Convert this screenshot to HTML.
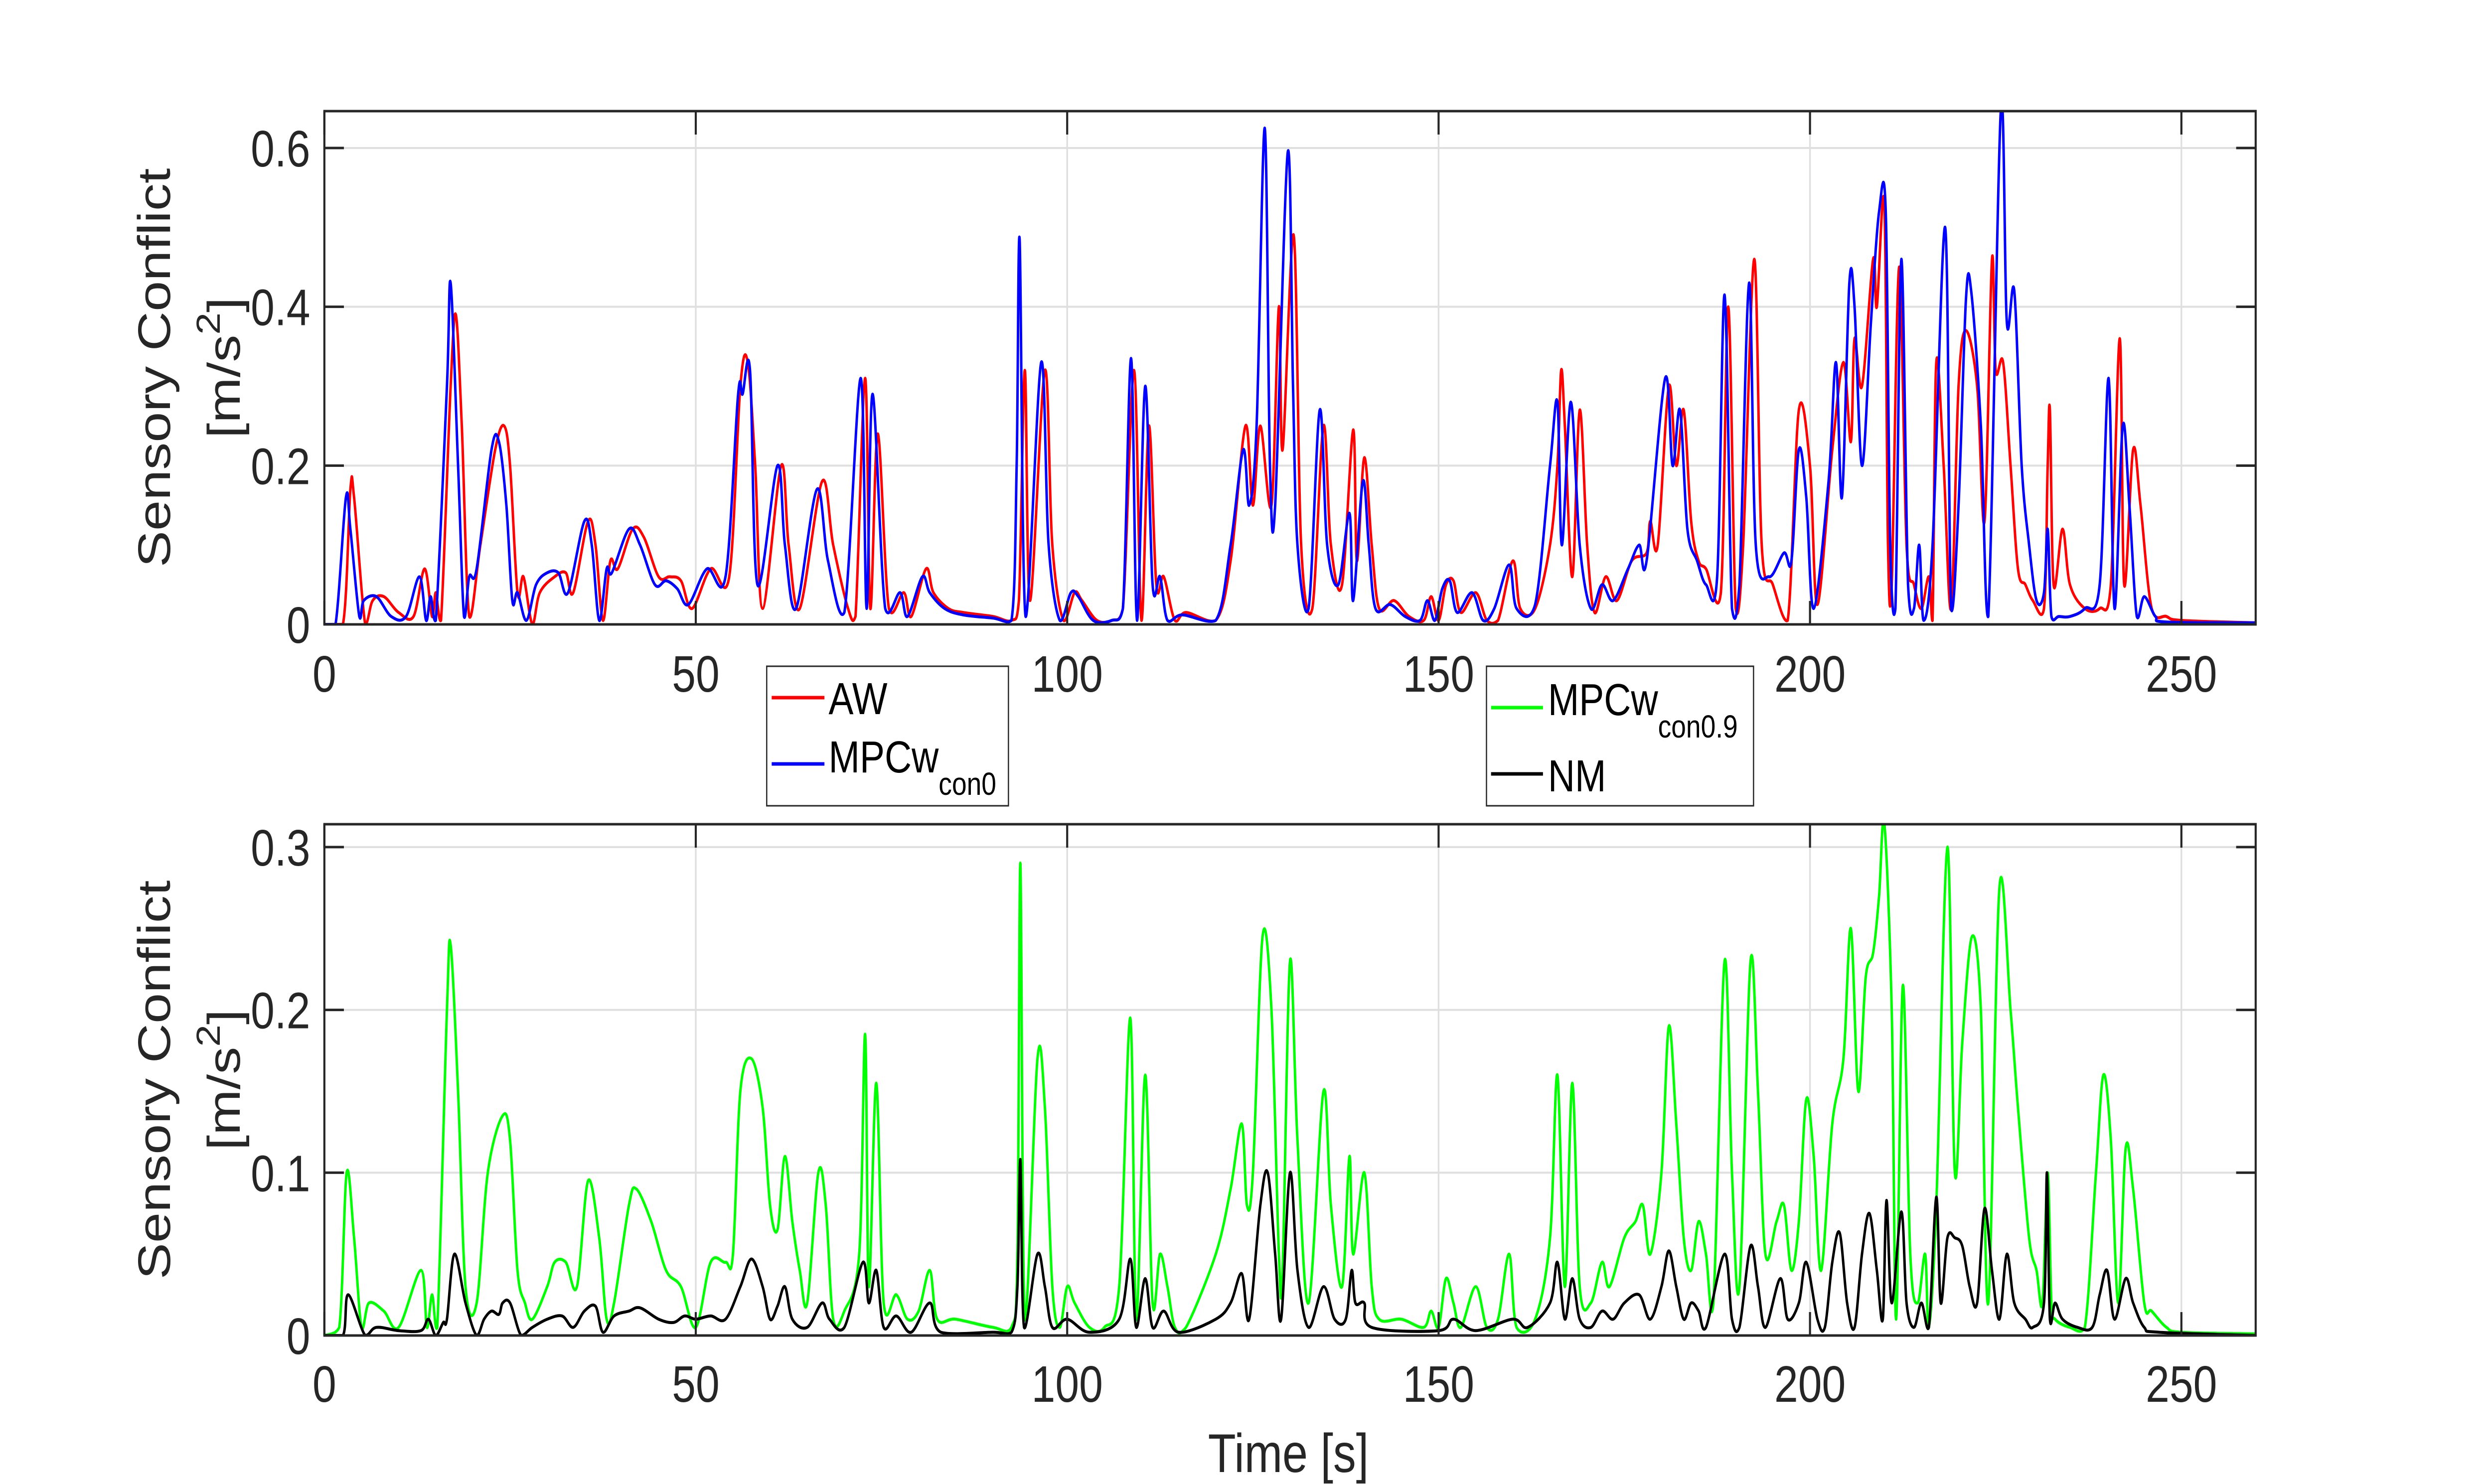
<!DOCTYPE html>
<html><head><meta charset="utf-8"><style>
html,body{margin:0;padding:0;background:#fff;overflow:hidden;width:100%;height:100%}
svg{display:block;position:absolute;left:0;top:0;width:100vw;height:100vh}
text{font-family:"Liberation Sans",Arial,sans-serif;fill:#262626}
</style></head><body>
<svg id="s" viewBox="0 0 6000 2978" preserveAspectRatio="none" xmlns="http://www.w3.org/2000/svg">
<defs>
<clipPath id="c1"><rect x="781" y="223" width="4650" height="1030"/></clipPath>
<clipPath id="c2"><rect x="781" y="1654" width="4650" height="1026"/></clipPath>
</defs>
<g id="grid" stroke="#dfdfdf" stroke-width="4"></g>
<g id="series"></g>
<g id="axes" fill="none" stroke="#262626" stroke-width="5"></g>
<g id="labels"></g>
<text transform="translate(409,738) rotate(-90)" text-anchor="middle" font-size="110">Sensory Conflict</text>
<text transform="translate(577,738) rotate(-90)" text-anchor="middle" font-size="110">[m/s<tspan font-size="80" dy="-48">2</tspan><tspan dy="48">]</tspan></text>
<text transform="translate(409,2167) rotate(-90)" text-anchor="middle" font-size="110">Sensory Conflict</text>
<text transform="translate(577,2167) rotate(-90)" text-anchor="middle" font-size="110">[m/s<tspan font-size="80" dy="-48">2</tspan><tspan dy="48">]</tspan></text>
<text x="3102" y="2954" text-anchor="middle" font-size="110">Time [s]</text>
<rect x="1846" y="1337" width="582" height="280" fill="#fff" stroke="#262626" stroke-width="3"/>
<line x1="1858" y1="1400" x2="1985" y2="1400" stroke="#ff0000" stroke-width="7"/>
<line x1="1858" y1="1533" x2="1985" y2="1533" stroke="#0000ff" stroke-width="7"/>
<text x="1995" y="1433" font-size="90" style="fill:#000">AW</text>
<text x="1995" y="1550" font-size="90" style="fill:#000">MPCw<tspan font-size="64" dy="45">con0</tspan></text>
<rect x="3579" y="1337" width="643" height="280" fill="#fff" stroke="#262626" stroke-width="3"/>
<line x1="3590" y1="1420" x2="3715" y2="1420" stroke="#00ff00" stroke-width="7"/>
<line x1="3590" y1="1553" x2="3715" y2="1553" stroke="#000" stroke-width="7"/>
<text x="3727" y="1435" font-size="90" style="fill:#000">MPCw<tspan font-size="64" dy="45">con0.9</tspan></text>
<text x="3727" y="1588" font-size="90" style="fill:#000">NM</text>
</svg>
<script>
var NS="http://www.w3.org/2000/svg";
function el(p,n,a,t){var e=document.createElementNS(NS,n);for(var k in a)e.setAttribute(k,a[k]);if(t!==undefined)e.textContent=t;document.getElementById(p).appendChild(e);return e;}
var X0=781,X1=5431;function X(t){return X0+t*(X1-X0)/260;}
var A=[{top:223,bot:1253,sc:1593.3,ticks:[0,0.2,0.4,0.6],lab:["0","0.2","0.4","0.6"]},
       {top:1654,bot:2680,sc:3267,ticks:[0,0.1,0.2,0.3],lab:["0","0.1","0.2","0.3"]}];
A.forEach(function(a,i){
  for(var t=50;t<=250;t+=50){el("grid","line",{x1:X(t),x2:X(t),y1:a.top,y2:a.bot});}
  a.ticks.forEach(function(v){if(v>0)el("grid","line",{x1:X0,x2:X1,y1:a.bot-v*a.sc,y2:a.bot-v*a.sc});});
  el("axes","rect",{x:X0,y:a.top,width:X1-X0,height:a.bot-a.top});
  for(var t=0;t<=250;t+=50){el("axes","line",{x1:X(t),x2:X(t),y1:a.bot,y2:a.bot-47});el("axes","line",{x1:X(t),x2:X(t),y1:a.top,y2:a.top+47});
    el("labels","text",{x:X(t),y:(i==0?1388:2813),"text-anchor":"middle","font-size":"103"},String(t));}
  a.ticks.forEach(function(v,j){var y=a.bot-v*a.sc;el("axes","line",{x1:X0,x2:X0+47,y1:y,y2:y});el("axes","line",{x1:X1,x2:X1-47,y1:y,y2:y});
    el("labels","text",{x:747,y:y+37,"text-anchor":"end","font-size":"103"},a.lab[j]);});
});
function P(s){return s.split(";").map(function(p){var q=p.split(",");return[+q[0],+q[1]];});}
var R=P("0,0;2.5,0;3.5,0.17;4,0.16;5.5,0.0;6.5,0.03;8,0.035;10,0.015;12,0.01;13.5,0.07;14.5,0.01;15,0.04;15.7,0.005;17,0.3;17.7,0.39;18.5,0.25;19.5,0.01;21,0.1;23,0.22;24.2,0.25;25,0.2;26,0.04;26.8,0.06;28,0.0;29,0.04;31,0.06;32.5,0.065;33.5,0.04;35.5,0.13;36.5,0.1;37.5,0.005;38.5,0.08;39.5,0.07;41.5,0.12;43,0.11;45,0.06;46.5,0.06;48,0.055;49.5,0.02;52,0.07;54.5,0.06;56,0.3;57,0.33;58,0.2;59,0.02;61.5,0.2;62.5,0.1;64,0.02;67,0.18;68.5,0.1;70.5,0.02;71.5,0.01;72.8,0.31;73.5,0.02;74.5,0.24;76,0.02;78,0.04;79,0.01;81,0.07;82,0.04;84,0.02;86,0.015;90,0.01;92.5,0.005;93.5,0.03;94.3,0.32;95,0.03;97,0.32;98,0.1;99.5,0.005;101,0.04;102,0.03;104,0.005;106,0.005;107.5,0.02;109,0.32;110,0.005;111,0.25;112,0.05;113,0.06;114.5,0.005;116,0.015;120,0.005;122,0.08;124,0.25;125,0.15;126,0.25;127.5,0.15;128.5,0.4;129,0.22;130.5,0.49;131.5,0.1;133,0.02;134.5,0.25;135.5,0.1;137,0.05;138.5,0.245;139,0.08;140,0.21;141,0.1;142,0.02;144,0.03;146,0.01;148,0.005;149,0.035;150,0.005;151,0.05;152,0.055;153,0.015;155,0.04;156.5,0.005;158,0.005;160,0.08;161,0.02;163,0.02;165,0.1;166,0.2;166.5,0.32;167,0.25;168,0.06;169,0.27;170,0.1;171,0.015;172.5,0.06;174,0.03;176,0.08;178,0.09;178.5,0.13;179.5,0.1;181,0.3;182,0.2;183,0.27;184,0.13;185,0.08;186,0.07;188,0.04;189,0.4;190,0.02;191,0.1;192.5,0.46;193.5,0.1;195,0.05;197,0.005;198.5,0.27;200,0.2;201,0.025;203,0.22;204.5,0.33;205.5,0.23;206,0.36;207,0.3;208.5,0.46;209,0.4;210,0.53;210.5,0.1;211,0.05;212,0.45;213,0.1;214,0.05;215,0.02;216,0.06;216.5,0.005;217,0.33;218,0.2;219,0.02;220,0.3;221,0.37;222.5,0.3;223.5,0.13;224.5,0.46;225,0.32;226,0.33;227,0.2;228,0.07;229,0.05;230,0.03;231.5,0.02;232,0.2;232.3,0.27;232.8,0.05;234,0.12;235,0.05;237,0.02;239,0.02;240.5,0.05;241.7,0.36;242.3,0.05;243.5,0.22;244.5,0.15;246,0.02;248,0.01;250,0.005;260,0.002");
var B=P("0,0;1.5,0;2.9,0.16;3.5,0.12;4.7,0.01;5.3,0.03;7,0.035;9,0.01;11,0.01;12.8,0.06;13.7,0.005;14.3,0.035;15,0.005;16.5,0.3;17,0.43;18,0.2;18.8,0.01;19.5,0.06;20.5,0.07;22.5,0.22;23.5,0.23;24.5,0.15;25.3,0.03;26,0.04;27.2,0.005;28.5,0.05;30,0.065;31.5,0.065;32.8,0.04;35,0.13;36,0.1;37,0.005;38,0.07;38.7,0.065;41,0.12;42.5,0.1;44.5,0.05;46,0.055;47.5,0.045;49,0.025;51.5,0.07;54,0.06;55.7,0.29;56.3,0.29;57.3,0.32;58.3,0.05;61,0.2;62,0.1;63.5,0.02;66.3,0.17;67.8,0.08;70,0.015;72.2,0.31;73,0.02;73.8,0.29;75.5,0.02;77.5,0.04;78.5,0.01;80.5,0.06;81.5,0.04;83.5,0.02;86,0.012;90,0.008;92.5,0.005;93.2,0.2;93.6,0.485;94.4,0.01;96.5,0.33;97.5,0.1;99,0.005;100.5,0.04;101.5,0.035;103.5,0.005;106,0.005;107.5,0.02;108.6,0.335;109.4,0.005;110.5,0.3;111.5,0.05;112.5,0.06;113.5,0.005;115.5,0.012;120,0.005;122,0.1;123.7,0.22;124.5,0.15;125.5,0.25;126.6,0.625;127.3,0.2;128,0.15;129.7,0.595;130.4,0.3;131,0.1;132.5,0.02;134,0.27;135,0.1;136.5,0.05;138,0.14;138.5,0.03;139.8,0.18;140.6,0.1;141.5,0.02;143.5,0.025;145.5,0.01;147.5,0.005;148.5,0.03;149.5,0.005;150.5,0.045;151.5,0.055;152.5,0.015;154.5,0.04;156,0.005;157.5,0.02;159.5,0.075;160.5,0.02;163,0.025;165,0.2;166,0.28;166.6,0.1;167.8,0.28;169,0.1;170.5,0.02;172,0.05;173.5,0.03;175.5,0.07;177,0.1;178,0.08;180.5,0.31;181.5,0.2;182.5,0.27;183.5,0.12;184.8,0.08;186,0.05;187.5,0.06;188.5,0.415;189.5,0.02;190.5,0.05;191.8,0.43;192.7,0.1;194.5,0.06;196.5,0.09;197.5,0.08;198.5,0.22;199.5,0.16;200.5,0.02;202.5,0.18;203.5,0.33;204.3,0.16;205.3,0.43;206,0.4;207,0.2;208.2,0.38;209.3,0.52;210.2,0.52;210.8,0.1;211.5,0.02;212.3,0.46;213.2,0.05;214,0.02;214.7,0.1;215.3,0.005;216.5,0.1;218.2,0.5;219,0.02;220,0.15;221,0.41;221.7,0.42;223,0.25;224,0.01;225.7,0.65;226.5,0.38;227.5,0.42;228.5,0.2;229.5,0.1;230.5,0.03;231.5,0.04;232,0.12;232.5,0.01;233.5,0.01;235,0.01;237,0.02;239,0.05;240.2,0.31;241,0.02;242.1,0.25;243,0.15;244,0.01;245,0.035;246.5,0.01;248,0.003;260,0.002");
var G=P("0,0;2,0.005;3,0.1;4,0.06;5,0.005;6,0.02;8,0.015;10,0.005;13,0.04;13.8,0.005;14.5,0.025;15.2,0.005;16.5,0.2;17,0.24;18,0.15;19,0.03;20.5,0.02;22,0.1;24,0.135;25,0.12;26,0.04;27,0.02;28,0.01;30,0.03;31,0.045;32.5,0.045;34,0.03;35.5,0.095;37,0.06;38,0.01;39,0.02;41,0.08;42,0.09;44,0.07;46,0.04;48,0.03;50,0.005;52,0.045;54,0.045;55,0.05;56,0.15;57.5,0.17;59,0.14;60,0.08;61,0.065;62,0.11;63,0.07;64,0.04;65,0.02;66.5,0.1;67.5,0.08;68.5,0.01;70,0.015;72,0.05;72.8,0.185;73.3,0.03;74.3,0.155;75.3,0.02;77,0.025;78.5,0.01;80,0.015;81.5,0.04;82.5,0.01;85,0.01;90,0.005;92.5,0.005;93.3,0.05;93.7,0.29;94.3,0.01;96,0.17;97,0.14;98,0.03;99,0.005;100,0.03;101,0.02;103,0.005;105,0.005;107,0.03;108.5,0.195;109.3,0.01;110.5,0.16;111.5,0.02;112.5,0.05;113.5,0.03;114.5,0.005;116,0.005;120,0.05;122,0.09;123.5,0.13;124.2,0.08;125,0.1;126.3,0.245;127.5,0.2;128.5,0.05;129,0.04;130,0.23;131,0.12;132.5,0.02;134.5,0.15;135.5,0.08;137,0.03;138,0.11;138.5,0.05;140,0.1;141,0.03;142,0.01;145,0.01;148,0.005;149,0.015;150,0.005;151,0.035;152,0.02;153,0.005;155,0.03;156.5,0.005;158,0.01;159.5,0.05;160.5,0.005;163,0.01;165,0.06;166,0.16;167,0.03;168,0.155;169,0.03;170.5,0.02;172,0.045;173,0.03;175,0.06;176.5,0.07;177.5,0.08;178.5,0.05;180,0.1;181,0.19;182,0.13;183,0.06;184,0.04;185,0.07;186,0.05;187,0.02;188.5,0.23;189.5,0.1;190.5,0.03;192,0.23;193,0.15;194,0.05;195.5,0.07;196.5,0.08;197.5,0.04;198.5,0.07;199.5,0.145;200.5,0.11;201.5,0.04;203,0.13;204.5,0.17;205.5,0.25;206.5,0.15;207.5,0.22;208.5,0.235;209.3,0.27;210,0.315;211,0.2;211.6,0.01;212.5,0.215;213.5,0.05;214.5,0.02;215.5,0.05;216,0.005;217,0.08;218.5,0.3;219.5,0.1;220.5,0.18;221.8,0.245;223,0.2;224,0.02;225.5,0.275;227,0.2;228,0.14;229.5,0.06;230.5,0.04;231.3,0.02;232,0.1;232.5,0.02;233,0.01;235,0.005;237,0.005;238.5,0.1;239.5,0.16;240.5,0.12;241.5,0.02;242.5,0.115;243.5,0.09;245,0.02;246,0.015;248,0.005;250,0.002;260,0.001");
var K=P("0,0;2.5,0;3.2,0.025;5.5,0.0;7,0.005;10,0.003;13,0.003;14,0.01;15,0.0;16,0.008;16.5,0.01;17.5,0.05;19,0.02;20.5,0.0;21.5,0.01;22.5,0.015;23.5,0.013;24,0.02;25,0.02;26.5,0.0;28,0.005;30,0.01;32,0.012;33.5,0.005;35,0.015;36.5,0.018;37.5,0.002;39,0.012;41,0.015;42.5,0.017;45,0.01;47,0.008;48.5,0.012;50,0.01;52,0.012;54,0.01;56,0.03;57.5,0.047;59,0.03;60,0.01;61,0.018;62,0.03;63,0.01;65,0.005;67,0.02;68,0.01;70,0.005;72.5,0.045;73.3,0.02;74.3,0.04;75.3,0.005;77,0.012;79,0.002;81.5,0.02;83,0.002;90,0.002;92.5,0.002;93.3,0.03;93.7,0.108;94.2,0.005;96,0.05;97,0.03;98,0.005;100,0.01;103,0.002;107,0.01;108.5,0.047;109.3,0.005;110.5,0.035;111.5,0.005;113,0.015;115,0.002;120,0.01;122,0.02;123.5,0.038;124.5,0.01;126,0.08;127,0.1;128,0.05;128.8,0.01;130,0.1;131,0.04;132.5,0.005;134.5,0.03;136,0.01;137.5,0.01;138.3,0.04;138.8,0.02;140,0.02;141,0.005;150,0.003;152,0.01;155,0.003;160,0.01;162,0.005;165,0.02;166,0.045;167,0.01;168,0.035;169,0.01;170.5,0.005;172,0.015;173.5,0.01;175,0.02;177,0.025;178.5,0.01;180,0.03;181,0.052;182,0.03;183,0.01;184,0.02;185,0.015;186,0.005;188.5,0.05;189.5,0.01;190.5,0.005;192,0.055;193,0.03;194,0.005;196,0.035;197,0.01;198.5,0.02;199.5,0.045;201,0.01;202,0.005;203,0.045;204,0.063;205,0.02;206,0.005;207,0.05;208,0.075;209,0.04;209.8,0.01;210.3,0.083;211,0.02;212.3,0.076;213,0.02;214,0.005;215,0.02;216,0.005;217,0.085;217.6,0.02;218.5,0.06;219.5,0.06;220.5,0.055;221.5,0.03;222.5,0.02;223.5,0.078;224.5,0.04;225.5,0.01;226.5,0.05;227.5,0.02;229,0.01;230,0.005;231.5,0.02;231.9,0.1;232.3,0.01;233,0.02;234,0.01;236,0.005;238,0.005;239,0.025;240,0.04;241,0.01;242.5,0.035;243.5,0.02;245,0.005;247,0.002;260,0");
function path(d,a){var p=d.map(function(q){return[X(q[0]),a.bot-q[1]*a.sc];});
  var s="M"+p[0][0].toFixed(1)+","+p[0][1].toFixed(1);
  for(var i=0;i<p.length-1;i++){var p0=p[Math.max(0,i-1)],p1=p[i],p2=p[i+1],p3=p[Math.min(p.length-1,i+2)];
    var k=6;var c1x=p1[0]+(p2[0]-p0[0])/k,c1y=p1[1]+(p2[1]-p0[1])/k,c2x=p2[0]-(p3[0]-p1[0])/k,c2y=p2[1]-(p3[1]-p1[1])/k;
    c1y=Math.min(c1y,a.bot);c2y=Math.min(c2y,a.bot);
    s+="C"+c1x.toFixed(1)+","+c1y.toFixed(1)+" "+c2x.toFixed(1)+","+c2y.toFixed(1)+" "+p2[0].toFixed(1)+","+p2[1].toFixed(1);}
  return s;}
el("series","path",{d:path(R,A[0]),fill:"none",stroke:"#ff0000","stroke-width":"6","stroke-linejoin":"round","clip-path":"url(#c1)"});
el("series","path",{d:path(B,A[0]),fill:"none",stroke:"#0000ff","stroke-width":"6","stroke-linejoin":"round","clip-path":"url(#c1)"});
el("series","path",{d:path(G,A[1]),fill:"none",stroke:"#00ff00","stroke-width":"6","stroke-linejoin":"round","clip-path":"url(#c2)"});
el("series","path",{d:path(K,A[1]),fill:"none",stroke:"#000000","stroke-width":"6","stroke-linejoin":"round","clip-path":"url(#c2)"});
</script>
</body></html>
